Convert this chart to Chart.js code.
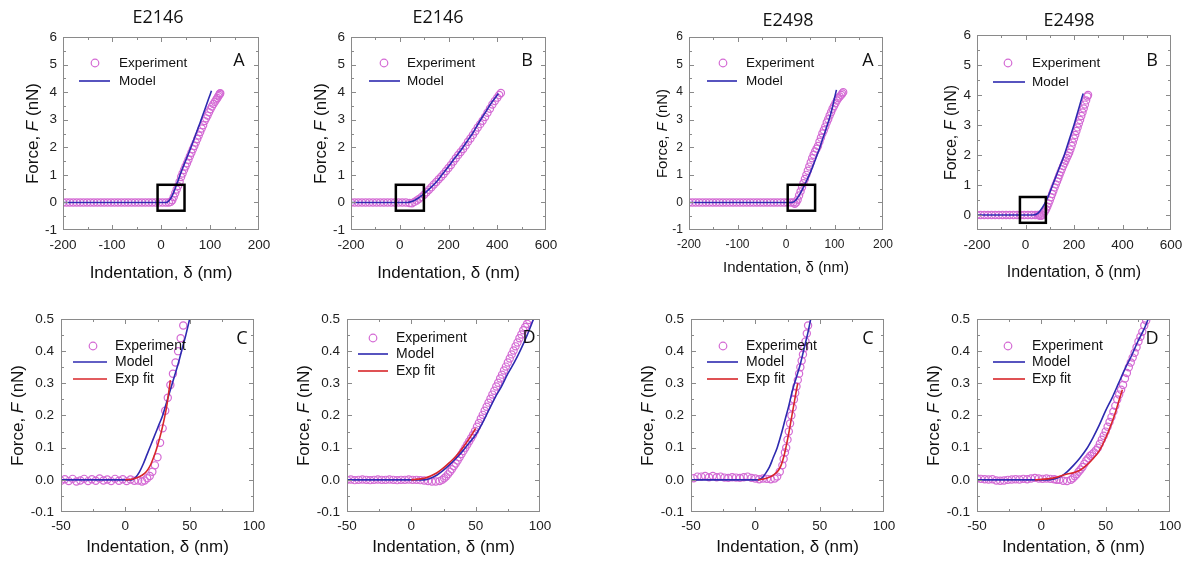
<!DOCTYPE html>
<html>
<head>
<meta charset="utf-8">
<script src="https://cdn.jsdelivr.net/npm/chart.js@4.4.0/dist/chart.umd.min.js"></script>
<style>
    body { margin: 0; background: #fff; }
    #page { position: relative; width: 1189px; height: 567px; overflow: hidden; }
    #page canvas { position: absolute; }
</style>
</head>
<body>
<div id="page"></div>
<script>
// ---- data (x = indentation in nm, y = force in nN) ----

// E2146, panel A
const e2146A_exp = [[-200,0],[-193,0],[-186,0],[-179,0],[-172,0],[-165,0],[-158,0],[-151,0],[-144,0],[-137,0],[-130,0],[-123,0],[-116,0],[-109,0],[-102,0],[-95,0],[-88,0],[-81,0],[-74,0],[-67,0],[-60,0],[-53,0],[-46,0],[-39,0],[-32,0],[-25,0],[-18,0],[-11,0],[-4,0],[3,0],[10,0],[16,0],[20,0.02],[23,0.08],[26,0.2],[29,0.33],[32,0.47],[35,0.6],[38,0.75],[41,0.92],[44,1.05],[47,1.18],[50,1.3],[53,1.42],[56,1.55],[59,1.68],[62,1.8],[65,1.93],[68,2.05],[71,2.17],[74,2.3],[77,2.43],[80,2.55],[83,2.68],[86,2.8],[89,2.95],[92,3.05],[95,3.15],[98,3.27],[101,3.38],[104,3.48],[107,3.57],[110,3.65],[113,3.73],[115,3.79],[117,3.85],[119,3.9],[120,3.94],[121,3.96]];
const e2146A_model = [[-200,0],[10,0],[15,0.04],[20,0.15],[25,0.33],[30,0.56],[35,0.8],[40,1.05],[45,1.28],[50,1.5],[55,1.72],[60,1.95],[65,2.18],[70,2.42],[75,2.66],[80,2.9],[85,3.15],[90,3.4],[95,3.65],[100,3.9],[103,4.05]];

// E2146, panel B
const e2146B_exp = [[-200,0],[-185,0],[-170,0],[-155,0],[-140,0],[-125,0],[-110,0],[-95,0],[-80,0],[-65,0],[-50,0],[-35,0],[-20,0],[-5,0],[10,0],[25,0],[40,-0.02],[50,-0.03],[60,0.02],[70,0.07],[80,0.13],[90,0.2],[100,0.28],[110,0.37],[120,0.46],[130,0.55],[140,0.65],[150,0.74],[160,0.84],[170,0.93],[180,1.03],[190,1.14],[200,1.25],[210,1.36],[220,1.48],[230,1.6],[240,1.72],[250,1.83],[260,1.94],[270,2.06],[280,2.2],[290,2.32],[300,2.45],[310,2.58],[320,2.72],[330,2.84],[340,2.96],[350,3.1],[360,3.25],[370,3.4],[380,3.55],[390,3.68],[400,3.8],[408,3.9],[415,3.97]];
const e2146B_model = [[-200,0],[30,0],[50,0.03],[75,0.15],[100,0.32],[125,0.52],[150,0.74],[175,1.02],[200,1.3],[225,1.6],[250,1.88],[275,2.2],[300,2.52],[325,2.9],[350,3.25],[375,3.6],[405,3.95]];

// E2146, panel C (zoom of A)
const e2146C_exp = [[-50,-0.003],[-47,0.002],[-44,-0.004],[-41,0.003],[-38,-0.005],[-35,-0.002],[-32,0.003],[-29,-0.004],[-26,0.002],[-23,-0.003],[-20,0.004],[-17,-0.002],[-14,0.001],[-11,-0.004],[-8,0.003],[-5,-0.003],[-2,0.002],[1,-0.004],[4,0.001],[7,-0.003],[10,-0.002],[13,-0.005],[15,-0.002],[17,0.005],[19,0.012],[21,0.025],[23,0.045],[25,0.07],[27,0.115],[29,0.16],[31,0.215],[33,0.255],[35,0.295],[37,0.33],[39,0.365],[41,0.4],[43,0.44],[45,0.48],[47,0.52]];
const e2146C_model = [[-50,0],[5,0],[8,0.008],[11,0.025],[14,0.05],[17,0.08],[20,0.11],[23,0.14],[26,0.17],[29,0.2],[32,0.24],[35,0.28],[38,0.32],[41,0.36],[44,0.405],[47,0.45],[50,0.5]];
const e2146C_fit = [[0,0],[5,0.002],[10,0.008],[15,0.02],[18,0.035],[20,0.05],[22,0.07],[24,0.093],[26,0.12],[28,0.15],[30,0.185],[32,0.225],[34,0.28],[35,0.31]];

// E2146, panel D (zoom of B)
const e2146D_exp = [[-50,0],[-47,0.001],[-44,-0.001],[-41,0],[-38,0.001],[-35,0],[-32,-0.001],[-29,0],[-26,0.001],[-23,0],[-20,0],[-17,0.001],[-14,0],[-11,-0.001],[-8,0],[-5,0],[-2,0.001],[1,0],[4,0],[7,-0.001],[10,-0.002],[13,-0.004],[16,-0.005],[19,-0.005],[22,-0.004],[24,0],[25.5,0.005],[27,0.01],[28.5,0.017],[30,0.025],[31.5,0.033],[33,0.042],[34.5,0.051],[36,0.06],[37.5,0.07],[39,0.08],[40.5,0.09],[42,0.1],[43.5,0.11],[45,0.12],[46.5,0.13],[48,0.14],[49.5,0.152],[51,0.165],[52.5,0.177],[54,0.19],[55.5,0.202],[57,0.215],[58.5,0.227],[60,0.24],[61.5,0.252],[63,0.265],[64.5,0.277],[66,0.29],[67.5,0.302],[69,0.315],[70.5,0.327],[72,0.34],[73.5,0.352],[75,0.365],[76.5,0.377],[78,0.39],[79.5,0.402],[81,0.415],[82.5,0.427],[84,0.44],[85.5,0.452],[87,0.465],[88.5,0.475],[90,0.485],[91.5,0.497],[93,0.51]];
const e2146D_model = [[-50,0],[10,0],[15,0.005],[20,0.015],[25,0.03],[30,0.048],[35,0.068],[40,0.09],[45,0.115],[50,0.14],[55,0.175],[60,0.215],[65,0.255],[70,0.29],[75,0.33],[80,0.365],[85,0.405],[90,0.45],[95,0.5]];
const e2146D_fit = [[0,0],[10,0.005],[15,0.012],[20,0.022],[25,0.037],[30,0.055],[35,0.075],[40,0.1],[45,0.128],[50,0.16]];

// E2498, panel A
const e2498A_exp = [[-200,0],[-193,0],[-186,0],[-179,0],[-172,0],[-165,0],[-158,0],[-151,0],[-144,0],[-137,0],[-130,0],[-123,0],[-116,0],[-109,0],[-102,0],[-95,0],[-88,0],[-81,0],[-74,0],[-67,0],[-60,0],[-53,0],[-46,0],[-39,0],[-32,0],[-25,0],[-18,0],[-11,0],[-4,0],[3,0],[10,0],[15,0],[18,-0.05],[21,0],[24,0.1],[27,0.25],[30,0.4],[33,0.55],[36,0.7],[39,0.85],[42,1.0],[45,1.15],[48,1.3],[51,1.45],[54,1.6],[57,1.73],[60,1.85],[63,1.95],[66,2.05],[69,2.2],[72,2.35],[75,2.5],[78,2.62],[81,2.75],[84,2.9],[87,3.02],[90,3.15],[93,3.27],[96,3.4],[99,3.5],[102,3.6],[105,3.7],[108,3.78],[111,3.84],[114,3.9],[116,3.95],[118,4.0]];
const e2498A_model = [[-200,0],[12,0],[16,0.02],[20,0.08],[25,0.2],[30,0.35],[35,0.52],[40,0.7],[45,0.88],[50,1.08],[55,1.3],[60,1.53],[65,1.77],[70,2.0],[75,2.27],[80,2.53],[85,2.8],[90,3.07],[95,3.4],[100,3.78],[104,4.08]];

// E2498, panel B
const e2498B_exp = [[-200,0],[-185,0],[-170,0],[-155,0],[-140,0],[-125,0],[-110,0],[-95,0],[-80,0],[-65,0],[-50,0],[-35,0],[-20,0],[-5,0],[10,0],[25,0],[40,0],[50,0],[55,0],[60,-0.03],[65,-0.03],[70,0],[75,0.05],[80,0.12],[85,0.19],[90,0.28],[95,0.38],[100,0.48],[105,0.59],[110,0.7],[115,0.81],[120,0.92],[125,1.02],[130,1.12],[135,1.22],[140,1.33],[145,1.43],[150,1.53],[155,1.63],[160,1.72],[165,1.81],[170,1.9],[175,1.98],[180,2.07],[185,2.18],[190,2.3],[195,2.42],[200,2.55],[205,2.67],[210,2.8],[215,2.92],[220,3.05],[225,3.17],[230,3.3],[235,3.42],[240,3.55],[245,3.68],[250,3.82],[255,3.95],[258,4.0]];
const e2498B_model = [[-200,0],[30,0],[50,0.05],[70,0.25],[90,0.55],[112,1.0],[136,1.5],[160,2.0],[180,2.5],[200,3.0],[218,3.5],[236,4.0],[238,4.05]];

// E2498, panel C (zoom of A)
const e2498C_exp = [[-48,0.005],[-45,0.01],[-42,0.01],[-39,0.012],[-36,0.008],[-33,0.012],[-30,0.008],[-27,0.01],[-24,0.007],[-21,0.006],[-18,0.008],[-15,0.007],[-12,0.006],[-9,0.008],[-6,0.01],[-3,0.006],[0,0.004],[3,0.002],[6,0.004],[9,0.003],[12,0.002],[15,0.004],[17,0.01],[19,0.025],[21,0.045],[22,0.065],[23,0.085],[24,0.1],[25,0.125],[26,0.15],[27,0.175],[28,0.2],[29,0.225],[30,0.25],[31,0.27],[32,0.29],[33,0.31],[34,0.33],[35,0.35],[36,0.37],[37,0.39],[38,0.41],[39,0.43],[40,0.455],[41,0.48]];
const e2498C_model = [[-50,0],[2,0],[5,0.005],[8,0.02],[11,0.04],[14,0.07],[17,0.1],[20,0.14],[23,0.185],[26,0.23],[29,0.28],[32,0.32],[35,0.36],[38,0.41],[41,0.46],[44,0.52]];
const e2498C_fit = [[2,0],[8,0.004],[12,0.01],[15,0.018],[18,0.03],[20,0.045],[22,0.07],[24,0.105],[26,0.145],[28,0.19],[30,0.235],[32,0.28],[33,0.3]];

// E2498, panel D (zoom of B)
const e2498D_exp = [[-50,0.004],[-47,0.003],[-44,0.002],[-41,0.001],[-38,0.002],[-35,-0.002],[-32,-0.003],[-29,-0.002],[-26,0],[-23,0.001],[-20,0.002],[-17,0.001],[-14,0.003],[-11,0.002],[-8,0.004],[-5,0.006],[-2,0.004],[1,0.003],[4,0.004],[7,0.003],[10,0.002],[12,0],[14,0],[17,-0.003],[20,-0.004],[23,0],[24.5,0.005],[26,0.011],[27.5,0.017],[29,0.025],[30.5,0.032],[32,0.04],[33.5,0.05],[35,0.06],[36.5,0.067],[38,0.075],[39.5,0.08],[41,0.085],[42.5,0.092],[44,0.1],[45.5,0.112],[47,0.125],[48.5,0.137],[50,0.15],[51.5,0.165],[53,0.18],[54.5,0.195],[56,0.212],[57.5,0.23],[59,0.25],[60.5,0.265],[62,0.28],[63.5,0.295],[65,0.315],[66.5,0.332],[68,0.35],[69.5,0.365],[71,0.38],[72.5,0.395],[74,0.412],[75.5,0.43],[77,0.445],[78.5,0.46],[80,0.48],[81.5,0.495],[83,0.51]];
const e2498D_model = [[-50,0],[5,0],[10,0.003],[15,0.01],[20,0.025],[25,0.045],[30,0.068],[35,0.095],[40,0.13],[45,0.17],[50,0.215],[55,0.255],[60,0.3],[65,0.345],[70,0.385],[75,0.43],[80,0.47],[84,0.51]];
const e2498D_fit = [[-5,0],[5,0.003],[10,0.006],[15,0.012],[20,0.018],[25,0.022],[30,0.03],[35,0.045],[40,0.065],[45,0.09],[50,0.13],[55,0.18],[58,0.215],[61,0.255],[63,0.28]];

// tick values
const xTicksNarrow = [-200, -100, 0, 100, 200];
const xMinorNarrow = [-150, -50, 50, 150];
const xTicksWide = [-200, 0, 200, 400, 600];
const xMinorWide = [-100, 100, 300, 500];
const xTicksZoom = [-50, 0, 50, 100];
const xMinorZoom = [-25, 25, 75];
const yTicksForce = [-1, 0, 1, 2, 3, 4, 5, 6];
const yTicksForceB = [0, 1, 2, 3, 4, 5, 6];
const yMinorForce = [-0.5, 0.5, 1.5, 2.5, 3.5, 4.5, 5.5];
const yTicksZoom = [-0.1, 0, 0.1, 0.2, 0.3, 0.4, 0.5];
const yMinorZoom = [-0.05, 0.05, 0.15, 0.25, 0.35, 0.45];

// ---- styles ----
const PINK = '#d46ad4';
const NAVY = '#2e2ab0';
const RED = '#d8262a';
const ARIAL = '"Liberation Sans", Arial, sans-serif';
const CALIBRI = '"Open Sans", sans-serif';

const topRow = { xRange: [-200, 200], xTicks: xTicksNarrow, xMinor: xMinorNarrow, yRange: [-1, 6], yTicks: yTicksForce, yMinor: yMinorForce,
    row: 0, tickFont: 13.5, axisFont: 17, legendFont: 13.5, yTitleDx: 30, xTitleDy: 43, xPad: 7, yPad: 6, fmt: v => String(v) };
const bottomRow = { xRange: [-50, 100], xTicks: xTicksZoom, xMinor: xMinorZoom, yRange: [-0.1, 0.5], yTicks: yTicksZoom, yMinor: yMinorZoom,
    row: 1, tickFont: 13.5, axisFont: 17, legendFont: 14, yTitleDx: 43, xTitleDy: 35, xPad: 6, yPad: 7, fmt: v => v.toFixed(1) };

const panels = [
    { ...topRow, plot: [63, 37, 196, 193], title: 'E2146', titleX: 158, titleY: 18, letter: 'A', letterPos: [20, 24],
      exp: e2146A_exp, model: e2146A_model, box: [-7, 48, -0.3, 0.64],
      legend: { marker: 32, line: [16, 47], text: 56, rows: [26, 44] } },
    { ...topRow, plot: [351, 37, 195, 193], xRange: [-200, 600], xTicks: xTicksWide, xMinor: xMinorWide,
      title: 'E2146', titleX: 438, titleY: 18, letter: 'B', letterPos: [19, 24],
      exp: e2146B_exp, model: e2146B_model, box: [-16, 99, -0.3, 0.64],
      legend: { marker: 33, line: [18, 49], text: 56, rows: [26, 44] } },
    { ...topRow, plot: [689, 37, 194, 193], title: 'E2498', titleX: 788, titleY: 21, letter: 'A', letterPos: [15, 24],
      tickFont: 12, axisFont: 15, yTitleDx: 26, xTitleDy: 38,
      exp: e2498A_exp, model: e2498A_model, box: [3.5, 60, -0.3, 0.64],
      legend: { marker: 34, line: [18, 48], text: 57, rows: [26, 44] } },
    { ...topRow, plot: [977, 35, 194, 195], xRange: [-200, 600], xTicks: xTicksWide, xMinor: xMinorWide,
      yRange: [-0.5, 6], yTicks: yTicksForceB, yTitleDx: 25, axisFont: 16,
      title: 'E2498', titleX: 1069, titleY: 21, letter: 'B', letterPos: [19, 26],
      exp: e2498B_exp, model: e2498B_model, box: [-23, 84, -0.26, 0.6],
      legend: { marker: 31, line: [16, 48], text: 55, rows: [28, 47] } },
    { ...bottomRow, plot: [61, 319, 193, 193], letter: 'C', letterPos: [12, 20],
      exp: e2146C_exp, model: e2146C_model, fit: e2146C_fit,
      legend: { marker: 32, line: [12, 46], text: 54, rows: [27, 43, 60] } },
    { ...bottomRow, plot: [347, 319, 193, 193], letter: 'D', letterPos: [11, 19],
      exp: e2146D_exp, model: e2146D_model, fit: e2146D_fit,
      legend: { marker: 26, line: [11, 41], text: 49, rows: [19, 35, 52] } },
    { ...bottomRow, plot: [691, 319, 193, 193], letter: 'C', letterPos: [16, 20],
      exp: e2498C_exp, model: e2498C_model, fit: e2498C_fit,
      legend: { marker: 32, line: [16, 47], text: 55, rows: [27, 43, 60] } },
    { ...bottomRow, plot: [977, 319, 193, 193], letter: 'D', letterPos: [18, 20],
      exp: e2498D_exp, model: e2498D_model, fit: e2498D_fit,
      legend: { marker: 31, line: [16, 48], text: 55, rows: [27, 43, 60] } }
];

const toPoints = pairs => pairs.map(([x, y]) => ({ x, y }));

function drawForceTitle(ctx, cx, cy, size) {
    const parts = [['Force, ', `${size}px ${ARIAL}`], ['F', `italic ${size}px ${ARIAL}`], [' (nN)', `${size}px ${ARIAL}`]];
    ctx.save();
    ctx.translate(cx, cy);
    ctx.rotate(-Math.PI / 2);
    let total = 0;
    parts.forEach(([t, f]) => { ctx.font = f; total += ctx.measureText(t).width; });
    let x = -total / 2;
    ctx.textAlign = 'left';
    ctx.textBaseline = 'middle';
    ctx.fillStyle = '#111';
    parts.forEach(([t, f]) => { ctx.font = f; ctx.fillText(t, x, 0); x += ctx.measureText(t).width; });
    ctx.restore();
}

// frame, inward ticks, zoom box, legend, labels
function decorPlugin(p, canvasTop) {
    return {
        id: 'decor',
        afterDatasetsDraw(chart) {
            const ctx = chart.ctx;
            const { left, right, top, bottom } = chart.chartArea;
            const xs = chart.scales.x, ys = chart.scales.y;
            ctx.save();

            if (p.box) {
                const [x0, x1, y0, y1] = p.box;
                const bx = xs.getPixelForValue(x0), by = ys.getPixelForValue(y1);
                ctx.strokeStyle = '#000';
                ctx.lineWidth = 2.5;
                ctx.strokeRect(bx, by, xs.getPixelForValue(x1) - bx, ys.getPixelForValue(y0) - by);
            }

            ctx.strokeStyle = '#8a8a8a';
            ctx.lineWidth = 1;
            ctx.strokeRect(left + 0.5, top + 0.5, right - left - 1, bottom - top - 1);

            const seg = (x0, y0, x1, y1) => { ctx.beginPath(); ctx.moveTo(x0, y0); ctx.lineTo(x1, y1); ctx.stroke(); };
            const xMarks = (vals, len) => vals.forEach(v => {
                const px = Math.round(xs.getPixelForValue(v)) + 0.5;
                if (px < left + 2 || px > right - 2) return;
                seg(px, bottom, px, bottom - len);
                seg(px, top, px, top + len);
            });
            const yMarks = (vals, len) => vals.forEach(v => {
                const py = Math.round(ys.getPixelForValue(v)) + 0.5;
                if (py < top + 2 || py > bottom - 2) return;
                seg(left, py, left + len, py);
                seg(right, py, right - len, py);
            });
            xMarks(p.xTicks, 5);
            xMarks(p.xMinor, 3);
            yMarks(p.yTicks, 5);
            yMarks(p.yMinor, 3);

            // legend
            const lg = p.legend;
            ctx.font = `${p.legendFont}px ${ARIAL}`;
            ctx.textAlign = 'left';
            ctx.textBaseline = 'middle';
            ctx.fillStyle = '#111';
            const entries = [['Experiment', null], ['Model', NAVY]];
            if (p.fit) entries.push(['Exp fit', RED]);
            entries.forEach(([label, color], i) => {
                const ry = top + lg.rows[i];
                if (color) {
                    ctx.strokeStyle = color;
                    ctx.lineWidth = 1.6;
                    seg(left + lg.line[0], ry, left + lg.line[1], ry);
                } else {
                    ctx.strokeStyle = PINK;
                    ctx.lineWidth = 1.2;
                    ctx.beginPath();
                    ctx.arc(left + lg.marker, ry, 3.8, 0, Math.PI * 2);
                    ctx.stroke();
                }
                ctx.fillText(label, left + lg.text, ry);
            });

            // panel letter
            ctx.font = `18px ${CALIBRI}`;
            ctx.textAlign = 'center';
            ctx.fillText(p.letter, right - p.letterPos[0], top + p.letterPos[1]);

            // axis titles
            drawForceTitle(ctx, left - p.yTitleDx, (top + bottom) / 2, p.axisFont);
            ctx.font = `${p.axisFont}px ${ARIAL}`;
            ctx.textAlign = 'center';
            ctx.fillText('Indentation, \u03b4 (nm)', (left + right) / 2, bottom + p.xTitleDy);

            if (p.title) {
                ctx.font = `18px ${CALIBRI}`;
                ctx.fillText(p.title, p.titleX - (p.plot[0] - left), p.titleY - canvasTop);
            }
            ctx.restore();
        }
    };
}

function buildPanel(p) {
    const [pl, pt, pw, ph] = p.plot;
    const yw = 60, padRight = 24;
    const padTop = p.row === 0 ? pt : 30;
    const xh = p.row === 0 ? 52 : 50;
    const canvas = document.createElement('canvas');
    canvas.width = yw + pw + padRight;
    canvas.height = padTop + ph + xh;
    canvas.style.left = (pl - yw) + 'px';
    canvas.style.top = (pt - padTop) + 'px';
    document.getElementById('page').appendChild(canvas);

    const datasets = [
        { data: toPoints(p.exp), showLine: false, pointStyle: 'circle', pointRadius: 3.6, pointBorderWidth: 1.2,
          pointBorderColor: PINK, pointBackgroundColor: 'rgba(0,0,0,0)', order: 2 },
        { data: toPoints(p.model), showLine: true, pointRadius: 0, borderColor: NAVY, borderWidth: 1.6,
          cubicInterpolationMode: 'monotone', order: 1 }
    ];
    if (p.fit) {
        datasets.push({ data: toPoints(p.fit), showLine: true, pointRadius: 0, borderColor: RED, borderWidth: 1.6,
            cubicInterpolationMode: 'monotone', order: 0 });
    }

    const tickFont = { family: ARIAL, size: p.tickFont };
    return new Chart(canvas, {
        type: 'scatter',
        data: { datasets },
        options: {
            responsive: false,
            animation: false,
            layout: { padding: { top: padTop, right: padRight, left: 0, bottom: 0 } },
            plugins: { legend: { display: false }, tooltip: { enabled: false } },
            scales: {
                x: {
                    type: 'linear', min: p.xRange[0], max: p.xRange[1],
                    grid: { display: false, drawTicks: false }, border: { display: false },
                    afterBuildTicks: s => { s.ticks = p.xTicks.map(v => ({ value: v })); },
                    afterFit: s => { s.height = xh; },
                    ticks: { font: tickFont, color: '#222', padding: p.xPad, maxRotation: 0, autoSkip: false, callback: v => String(v) }
                },
                y: {
                    type: 'linear', min: p.yRange[0], max: p.yRange[1],
                    grid: { display: false, drawTicks: false }, border: { display: false },
                    afterBuildTicks: s => { s.ticks = p.yTicks.map(v => ({ value: v })); },
                    afterFit: s => { s.width = yw; },
                    ticks: { font: tickFont, color: '#222', padding: p.yPad, autoSkip: false, callback: p.fmt }
                }
            }
        },
        plugins: [decorPlugin(p, pt - padTop)]
    });
}

panels.forEach(buildPanel);
</script>
</body>
</html>
